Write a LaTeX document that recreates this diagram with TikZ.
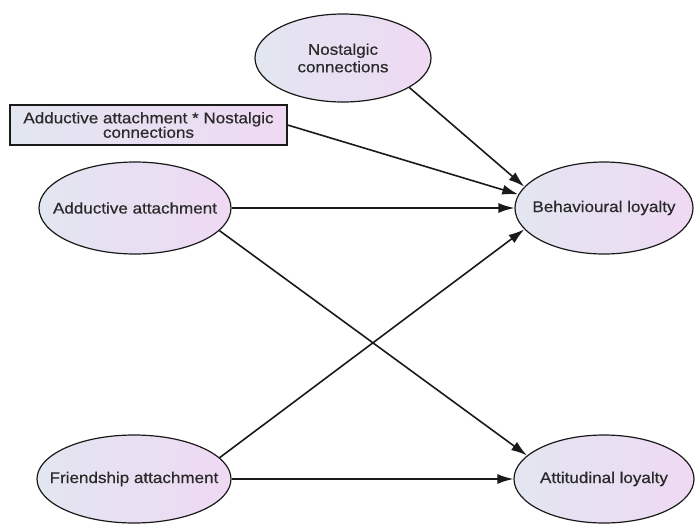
\documentclass[tikz,border=0pt]{standalone}
\usepackage{fontspec}
\setmainfont{Liberation Sans}[FakeStretch=1.1,FakeBold=0.5]
\usetikzlibrary{shapes.geometric,arrows.meta}
\definecolor{lblue}{HTML}{E2E6F1}
\definecolor{lpink}{HTML}{EFD9F3}
\definecolor{txt}{HTML}{2A2A2A}
\definecolor{ln}{HTML}{1A1A1A}
\tikzset{
  latent/.style={ellipse, draw=ln, line width=1.2pt, left color=lblue, right color=lpink,
    inner xsep=-30pt, inner ysep=0pt, text=txt, font=\fontsize{15.5}{17.5}\selectfont, align=center},
  inter/.style={rectangle, draw=ln, line width=1.2pt, left color=lblue, right color=lpink,
    inner sep=0pt, text=txt, font=\fontsize{15.5}{14.5}\selectfont, align=center,
    minimum width=277pt, minimum height=40pt},
  path/.style={draw=ln, line width=1.6pt, -{Latex[length=16pt,width=10pt]}}
}
\begin{document}
\begin{tikzpicture}[x=1pt,y=-1pt]
\useasboundingbox (0,0) rectangle (697,523);
\node[latent, minimum width=176pt, minimum height=88pt] (nost) at (343,58) {Nostalgic\\connections};
\node[inter] (box) at (148.5,125) {Adductive attachment * Nostalgic\\connections};
\node[latent, minimum width=192pt, minimum height=92pt] (add) at (135,208) {Adductive attachment};
\node[latent, minimum width=194pt, minimum height=88pt] (fri) at (134,479) {Friendship attachment};
\node[latent, minimum width=178pt, minimum height=92pt] (beh) at (604,208) {Behavioural loyalty};
\node[latent, minimum width=180pt, minimum height=88pt] (att) at (604,479) {Attitudinal loyalty};
\draw[path] (nost.-24) -- (beh.165.5);
\draw[path] (box.east) -- (beh.171.4);
\draw[path] (add.east) -- (beh.west);
\draw[path] (add.-15.4) -- (att.163);
\draw[path] (fri.14) -- (beh.195.3);
\draw[path] (fri.east) -- (att.west);
\end{tikzpicture}
\end{document}
